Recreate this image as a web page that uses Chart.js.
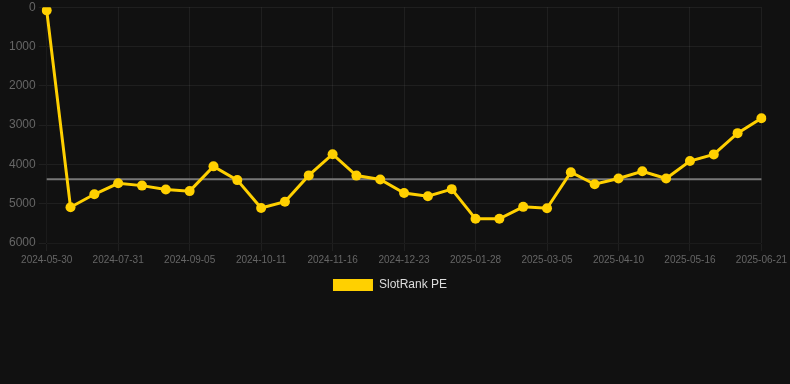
<!DOCTYPE html>
<html>
<head>
<meta charset="utf-8">
<script src="https://cdn.jsdelivr.net/npm/chart.js@4/dist/chart.umd.min.js"></script>
<style>
    html, body { margin: 0; padding: 0; background: #111111; }
    #wrap { position: relative; width: 790px; height: 301px; }
</style>
</head>
<body>
<div id="wrap"><canvas id="chart"></canvas></div>
<script>
const dates = [
    '2024-05-30', '2024-07-07', '2024-07-19', '2024-07-31', '2024-08-12', '2024-08-24',
    '2024-09-05', '2024-09-17', '2024-09-29', '2024-10-11', '2024-10-23', '2024-11-04',
    '2024-11-16', '2024-11-28', '2024-12-11', '2024-12-23', '2025-01-04', '2025-01-16',
    '2025-01-28', '2025-02-09', '2025-02-21', '2025-03-05', '2025-03-17', '2025-03-29',
    '2025-04-10', '2025-04-22', '2025-05-04', '2025-05-16', '2025-05-28', '2025-06-09',
    '2025-06-21'
];
const slotRankPE = [
    80, 5090, 4760, 4480, 4540, 4640, 4680, 4050, 4400, 5110, 4950,
    4280, 3740, 4285, 4385, 4730, 4810, 4630, 5385, 5385, 5080,
    5115, 4200, 4505, 4360, 4175, 4360, 3915, 3745, 3205, 2825
];
const averagePE = 4375;

const yellow = '#ffd000';
const grey = '#777777';

Chart.defaults.font.family = 'Arial, "Liberation Sans", Helvetica, sans-serif';

// legend sits a little right of centre in the original
const legendShift = {
    id: 'legendShift',
    afterLayout(chart) {
        chart.legend.left += 6;
        chart.legend.right += 6;
    }
};

const cfg = {
    type: 'line',
    data: {
        labels: dates,
        datasets: [
        {
            label: 'SlotRank PE',
            data: slotRankPE,
            borderColor: yellow,
            backgroundColor: yellow,
            borderWidth: 3,
            pointRadius: 5,
            pointBackgroundColor: yellow,
            pointBorderWidth: 0,
            tension: 0,
        },
        {
            label: 'avg',
            data: dates.map(() => averagePE),
            borderColor: grey,
            borderWidth: 2,
            pointRadius: 0,
            tension: 0,
        },
        ],
    },
    options: {
        animation: false,
        responsive: true,
        maintainAspectRatio: false,
        layout: { padding: { left: 6, right: 28, top: 0, bottom: 0 } },
        plugins: {
            legend: {
                position: 'bottom',
                labels: {
                    color: '#dddddd',
                    boxWidth: 40,
                    boxHeight: 12,
                    font: { size: 12 },
                    filter: item => item.datasetIndex === 0,
                    generateLabels: function(chart) {
                        const items = Chart.defaults.plugins.legend.labels.generateLabels(chart);
                        items.forEach(i => { i.lineWidth = 0; });
                        return items;
                    },
                },
            },
            tooltip: { enabled: false },
        },
        scales: {
            x: {
                grid: { color: 'rgba(255,255,255,0.06)' },
                ticks: { color: '#666666', font: { size: 10 }, maxRotation: 0, autoSkip: true },
            },
            y: {
                reverse: true,
                min: 0,
                max: 6000,
                grid: { color: 'rgba(255,255,255,0.06)' },
                ticks: {
                    color: '#666666',
                    font: { size: 12, lineHeight: 0.7 },
                    stepSize: 1000,
                    callback: v => String(v),
                },
            },
        },
    },
    plugins: [legendShift],
};

new Chart(document.getElementById('chart'), cfg);
</script>
</body>
</html>
